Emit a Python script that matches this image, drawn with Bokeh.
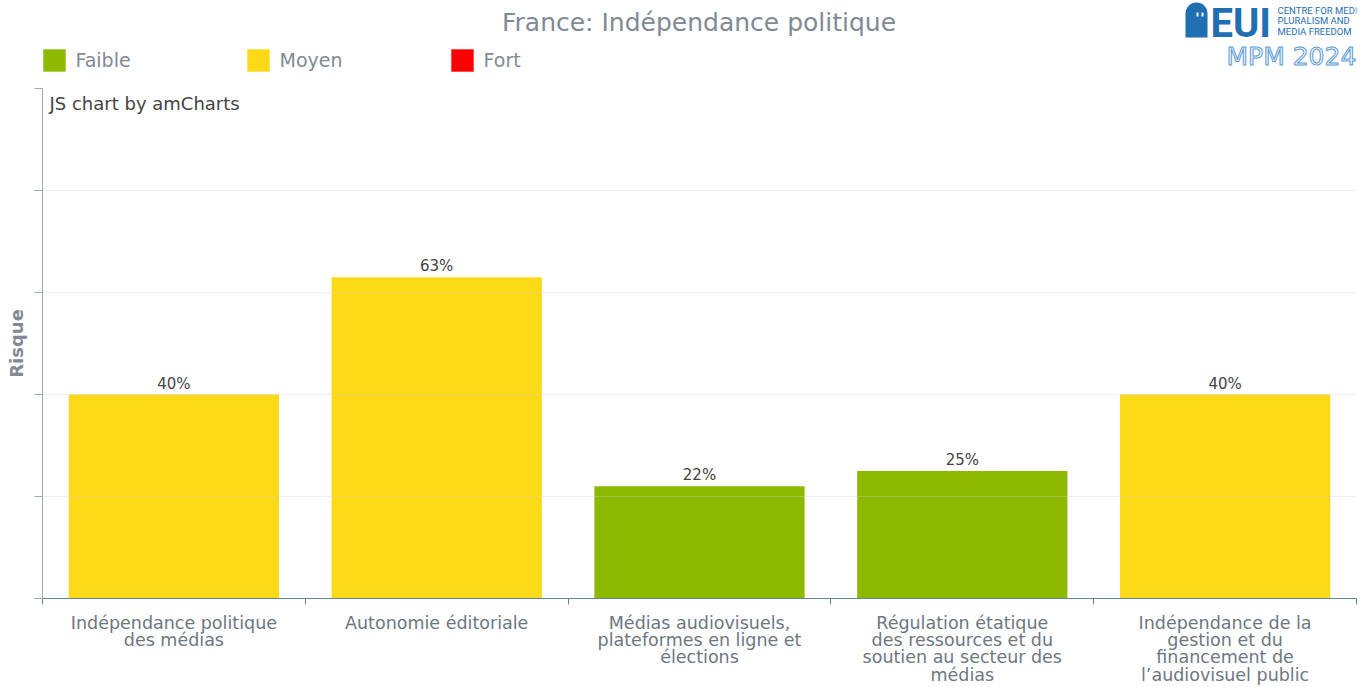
from bokeh.plotting import figure
from bokeh.layouts import column
from bokeh.models import (ColumnDataSource, Range1d, FixedTicker, Legend, LegendItem,
                          LabelSet, Label, BoxAnnotation)
from bokeh.core.properties import value
from bokeh.embed import file_html
from bokeh.resources import INLINE

# ---------------- data ----------------
title_text = "France: Indépendance politique"
categories = [
    "Indépendance politique des médias",
    "Autonomie éditoriale",
    "Médias audiovisuels, plateformes en ligne et élections",
    "Régulation étatique des ressources et du soutien au secteur des médias",
    "Indépendance de la gestion et du financement de l’audiovisuel public",
]
tick_labels = [
    "Indépendance politique\ndes médias",
    "Autonomie éditoriale",
    "Médias audiovisuels,\nplateformes en ligne et\nélections",
    "Régulation étatique\ndes ressources et du\nsoutien au secteur des\nmédias",
    "Indépendance de la\ngestion et du\nfinancement de\nl’audiovisuel public",
]
values = [40, 63, 22, 25, 40]
risk_levels = ["Moyen", "Moyen", "Faible", "Faible", "Moyen"]
legend_levels = ["Faible", "Moyen", "Fort"]
level_colors = ["#8dba00", "#fcd917", "#ff0000"]
y_ticks = [0, 20, 40, 60, 80, 100]
y_axis_title = "Risque"
watermark = "JS chart by amCharts"
logo_lines = ["CENTRE FOR MEDIA", "PLURALISM AND", "MEDIA FREEDOM"]

FONT = "DejaVu Sans"
GREY = "#7f8a94"
W = 1365
HEAD_H = 80
MAIN_H = 607
FL, FR = 42, 1356          # frame edges (shared by both rows of the column)

# ---------------- header: title, legend, logo ----------------
head = figure(width=W, height=HEAD_H, x_range=Range1d(FL, FR), y_range=Range1d(HEAD_H, 0),
              output_backend="svg", toolbar_location=None,
              x_axis_location=None, y_axis_location=None,
              min_border_left=FL, min_border_right=W - FR,
              min_border_top=0, min_border_bottom=0)
head.outline_line_color = None
head.xgrid.grid_line_color = None
head.ygrid.grid_line_color = None

head.add_layout(Label(x=698.5, y=22, text=title_text, text_align="center",
                      text_baseline="middle", text_font=FONT,
                      text_font_size="25px", text_color=GREY))

# legend swatches (legend-only renderers, placed outside the visible range)
swatches = {}
for lvl, col in zip(legend_levels, level_colors):
    swatches[lvl] = head.vbar(x=[-1000], top=[0], width=1, fill_color=col, line_color=None)
legend = Legend(items=[LegendItem(label=l, renderers=[swatches[l]]) for l in legend_levels],
                orientation="horizontal", location=(-2.5, 6.5),
                padding=0, margin=0, spacing=6,
                glyph_width=28, glyph_height=28, label_standoff=8, label_width=162,
                label_text_font=FONT, label_text_font_size="19px", label_text_color=GREY,
                border_line_color=None, background_fill_alpha=0)
head.add_layout(legend, "center")

# logo
BLUE = "#1f6fb2"
head.add_layout(BoxAnnotation(left=1185, right=1207, top=2, bottom=37,
                              fill_color=BLUE, fill_alpha=1, line_color=None,
                              border_radius=(11, 11, 0, 0)))
for dx in (1196, 1201):
    head.add_layout(BoxAnnotation(left=dx, right=dx + 2, top=12, bottom=16,
                                  fill_color="white", fill_alpha=1, line_color=None))
head.add_layout(Label(x=1210, y=23, text="EUI", text_baseline="middle",
                      text_font="Roboto", text_font_style="bold",
                      text_font_size="40px", text_color=BLUE))
for i, t in enumerate(logo_lines):
    head.add_layout(Label(x=1277, y=9.5 + 10.5 * i, text=t, text_baseline="middle",
                          text_font="Roboto", text_font_size="9.5px",
                          text_color=BLUE))
head.add_layout(Label(x=1226, y=56, text="MPM 2024", text_baseline="middle",
                      text_font=FONT, text_font_size="25px", text_color="#f2f7fc",
                      text_outline_color="#5b9bd5"))

# ---------------- main chart ----------------
n = len(categories)
centers = [i + 0.5 for i in range(n)]          # slot centres on the numeric x scale
bounds = list(range(n + 1))                    # slot boundaries (tick marks)

p = figure(width=W, height=MAIN_H,
           x_range=Range1d(0, n), y_range=Range1d(0, 100),
           output_backend="svg", toolbar_location=None,
           min_border_left=FL, min_border_right=W - FR,
           min_border_top=8, min_border_bottom=89)
p.outline_line_color = None

renderers = {}
for lvl, col in zip(legend_levels, level_colors):
    idx = [i for i, r in enumerate(risk_levels) if r == lvl]
    src = ColumnDataSource(dict(x=[centers[i] for i in idx],
                                val=[values[i] for i in idx]))
    renderers[lvl] = p.vbar(x="x", top="val", width=0.8, source=src,
                            fill_color=col, line_color=None)

lbl_src = ColumnDataSource(dict(x=centers, val=values, txt=[f"{v}%" for v in values]))
p.add_layout(LabelSet(x="x", y="val", text="txt", source=lbl_src, y_offset=6,
                      text_align="center", text_baseline="alphabetic",
                      text_font_size="15px", text_color="#444444",
                      text_font=value(FONT)))

# y axis
p.yaxis.ticker = FixedTicker(ticks=y_ticks)
p.yaxis.major_label_overrides = {t: "" for t in y_ticks}
p.yaxis.major_tick_in = 0
p.yaxis.major_tick_out = 8
p.yaxis.minor_tick_line_color = None
p.yaxis.major_label_standoff = 0
p.yaxis.axis_line_color = "#a0a8b0"
p.yaxis.major_tick_line_color = "#a0a8b0"
p.yaxis.axis_label = y_axis_title
p.yaxis.axis_label_text_font = FONT
p.yaxis.axis_label_text_font_size = "18px"
p.yaxis.axis_label_text_font_style = "bold"
p.yaxis.axis_label_text_color = GREY
p.yaxis.axis_label_standoff = 8

p.ygrid.ticker = FixedTicker(ticks=y_ticks)
p.ygrid.grid_line_color = "#d0d0d0"
p.ygrid.grid_line_alpha = 0.35
p.ygrid.level = "overlay"
p.xgrid.grid_line_color = None

# x axis: labels at slot centres, tick marks at slot boundaries
p.xaxis.ticker = FixedTicker(ticks=centers, minor_ticks=bounds)
p.xaxis.major_label_overrides = {c: t for c, t in zip(centers, tick_labels)}
p.xaxis.major_tick_line_color = None
p.xaxis.major_tick_in = 0
p.xaxis.major_tick_out = 0
p.xaxis.minor_tick_in = 0
p.xaxis.minor_tick_out = 6
p.xaxis.minor_tick_line_color = "#5d87a1"
p.xaxis.axis_line_color = "#5d87a1"
p.xaxis.major_label_standoff = 8
p.xaxis.major_label_text_font = FONT
p.xaxis.major_label_text_font_size = "17.5px"
p.xaxis.major_label_text_color = "#6d7782"
p.xaxis.major_label_text_line_height = 0.87

p.add_layout(Label(x=7, y=506, x_units="screen", y_units="screen",
                   text=watermark, text_baseline="top",
                   text_font=FONT, text_font_size="18px", text_color="#444444"))

layout = column(head, p, spacing=0)
open("out.html", "w").write(file_html(layout, INLINE))
